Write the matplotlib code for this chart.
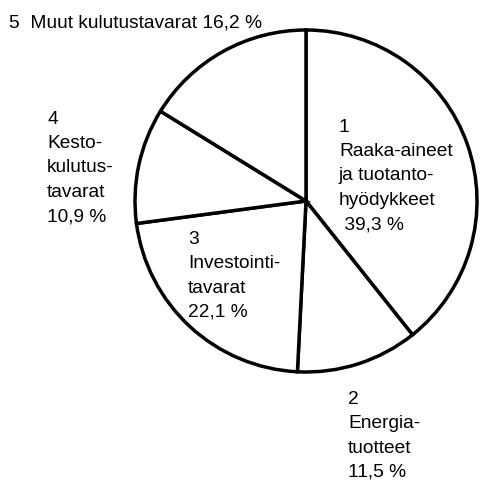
import matplotlib.pyplot as plt

# Shares of imports by use (%), clockwise from the top
labels = ["1\nRaaka-aineet\nja tuotanto-\nhyödykkeet\n 39,3 %",
          "2\nEnergia-\ntuotteet\n11,5 %",
          "3\nInvestointi-\ntavarat\n22,1 %",
          "4\nKesto-\nkulutus-\ntavarat\n10,9 %",
          "5  Muut kulutustavarat 16,2 %"]
shares = [39.3, 11.5, 22.1, 10.9, 16.2]

W, H = 480, 482
fig = plt.figure(figsize=(W / 100, H / 100), dpi=100)
ax = fig.add_axes([0, 0, 1, 1])

ax.pie(shares, startangle=90, counterclock=False, colors=["white"] * 5,
       center=(306, H - 201), radius=171, frame=True,
       wedgeprops=dict(edgecolor="black", linewidth=2.5))
ax.set_xlim(0, W)
ax.set_ylim(0, H)
ax.set_aspect("equal")
ax.axis("off")

font = dict(family="Liberation Sans", fontsize=13.8, color="black",
            linespacing=1.56, ha="left", va="center")

# label positions in pixel coords (left x, vertical centre y)
pos = [(339, 176), (348, 436), (188, 276), (47, 168), (9, 23)]
for lab, (x, y) in zip(labels, pos):
    ax.text(x, H - y, lab, **font)

fig.savefig("out.png", dpi=100)
